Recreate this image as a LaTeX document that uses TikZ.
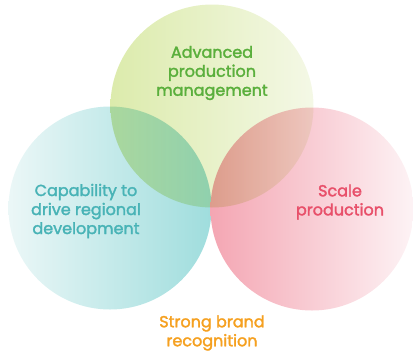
\documentclass[tikz,border=0pt]{standalone}
\usepackage{fontspec}
\setmainfont{Poppins}[FakeBold=2]
\usetikzlibrary{positioning}
\definecolor{grntxt}{HTML}{5AAF3C}
\definecolor{teltxt}{HTML}{48B3B6}
\definecolor{pnktxt}{HTML}{E8506A}
\definecolor{orgtxt}{HTML}{F5A020}
\definecolor{tealA}{HTML}{EBF7F7}
\definecolor{tealB}{HTML}{9FDDDD}
\definecolor{pinkA}{HTML}{F4A6B3}
\definecolor{pinkB}{HTML}{FDF3F5}
\definecolor{lgrnA}{HTML}{DCEBAC}
\definecolor{lgrnB}{HTML}{F4F8E6}
\begin{document}
\begin{tikzpicture}[x=1pt,y=-1pt,
    set/.style={circle,minimum size=203pt,inner sep=0pt},
    lbl/.style={align=center,font=\fontsize{16}{19}\selectfont}]
   \useasboundingbox (0,0) rectangle (413,360);
   % the three sets
   \node[set,left color=tealA,right color=tealB] (capab) at (110,208) {};
   \node[set,left color=pinkA,right color=pinkB] (scale) at (312,209) {};
   \begin{scope}[blend mode=multiply]
   \node[set,shading angle=45,left color=lgrnA,right color=lgrnB] (advan) at (212,106) {};
   \end{scope}
   % labels
   \node[lbl,text=grntxt] (advan_t) at (212,73) {Advanced\\production\\management};
   \node[lbl,text=teltxt] (capab_t) at (86,211) {Capability to\\drive regional\\development};
   \node[lbl,text=pnktxt] (scale_t) at (340,202) {Scale\\production};
   \node[lbl,text=orgtxt] (brand_t) at (212,333) {Strong brand\\recognition};
\end{tikzpicture}
\end{document}
